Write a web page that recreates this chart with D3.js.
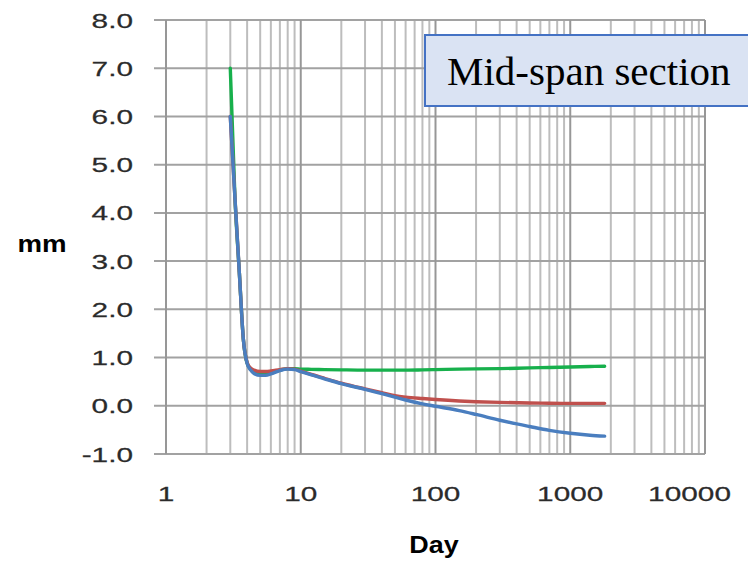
<!DOCTYPE html>
<html>
<head>
<meta charset="utf-8">
<script src="https://cdn.jsdelivr.net/npm/d3@7"></script>
<style>
  html, body { margin: 0; padding: 0; background: #fff; }
  svg { display: block; }
</style>
</head>
<body>
<svg id="chart" width="748" height="562"></svg>
<script>
// Deflection at mid-span (mm) against time since casting (days), log time axis
const days = [3, 3.25, 3.5, 3.75, 4, 4.25, 4.5, 5, 5.5, 6, 7, 8, 9, 10, 12, 15, 20, 30, 40, 50, 60, 80, 100, 150, 200, 300, 500, 700, 1000, 1400, 1800];

const seriesGreen = [7.0, 4.3, 2.77, 1.38, 0.88, 0.76, 0.70, 0.67, 0.67, 0.69, 0.74, 0.77, 0.77, 0.76, 0.755, 0.75, 0.745, 0.74, 0.74, 0.74, 0.74, 0.745, 0.75, 0.76, 0.765, 0.77, 0.785, 0.795, 0.805, 0.815, 0.82];
const seriesRed   = [6.0, 4.3, 2.77, 1.38, 0.90, 0.78, 0.74, 0.71, 0.71, 0.72, 0.75, 0.77, 0.76, 0.72, 0.65, 0.57, 0.47, 0.35, 0.27, 0.21, 0.18, 0.15, 0.13, 0.10, 0.085, 0.07, 0.058, 0.053, 0.05, 0.05, 0.05];
const seriesBlue  = [6.0, 4.3, 2.77, 1.38, 0.88, 0.74, 0.67, 0.63, 0.63, 0.66, 0.73, 0.76, 0.75, 0.71, 0.64, 0.56, 0.46, 0.34, 0.25, 0.18, 0.12, 0.04, -0.01, -0.10, -0.18, -0.30, -0.43, -0.51, -0.57, -0.61, -0.63];

const xTickLabels = [1, 10, 100, 1000, 10000];
const yTickValues = [-1, 0, 1, 2, 3, 4, 5, 6, 7, 8];

const svg = d3.select("#chart");
const W = 748;

const plotLeft = 166, plotRight = 705, plotTop = 20, plotBottom = 454;
const x = d3.scaleLog().domain([1, 10000]).range([plotLeft, plotRight]);
const y = d3.scaleLinear().domain([-1, 8]).range([plotBottom, plotTop]);

// grid: minor decade lines, then horizontal lines, then major decade lines
const grid = svg.append("g");
const allX = x.ticks();
const isMajor = v => Math.abs(Math.log10(v) - Math.round(Math.log10(v))) < 1e-9;

grid.append("g").selectAll("line")
  .data(allX.filter(v => !isMajor(v)))
  .join("line")
  .attr("x1", d => x(d)).attr("x2", d => x(d))
  .attr("y1", plotTop).attr("y2", plotBottom)
  .attr("stroke", "#bdbdbd").attr("stroke-width", 2);

grid.append("g").selectAll("line")
  .data(yTickValues)
  .join("line")
  .attr("x1", plotLeft - 12).attr("x2", plotRight)
  .attr("y1", d => y(d)).attr("y2", d => y(d))
  .attr("stroke", "#a2a2a2").attr("stroke-width", 2);

grid.append("g").selectAll("line")
  .data(allX.filter(isMajor))
  .join("line")
  .attr("x1", d => x(d)).attr("x2", d => x(d))
  .attr("y1", plotTop).attr("y2", plotBottom)
  .attr("stroke", "#979797").attr("stroke-width", 2);

// curves
const line = d3.line()
  .x(d => x(d[0]))
  .y(d => y(d[1]))
  .curve(d3.curveMonotoneX);

const series = [
  { values: seriesGreen, color: "#17b04c" },
  { values: seriesRed,   color: "#c0504d" },
  { values: seriesBlue,  color: "#4a7ebf" }
];

svg.append("g").selectAll("path")
  .data(series)
  .join("path")
  .attr("d", s => line(days.map((d, i) => [d, s.values[i]])))
  .attr("fill", "none")
  .attr("stroke", s => s.color)
  .attr("stroke-width", 3.4)
  .attr("stroke-linejoin", "round")
  .attr("stroke-linecap", "round");

// tick labels (glyphs widened horizontally)
const sx = 1.42;
const tickFont = "'Liberation Sans', Arial, sans-serif";
const labelColor = "#2b2b2b";

svg.append("g").selectAll("text")
  .data(yTickValues)
  .join("text")
  .attr("transform", d => `translate(133,${y(d) + 7.5}) scale(${sx},1)`)
  .attr("text-anchor", "end")
  .attr("font-family", tickFont)
  .attr("font-size", 21)
  .attr("fill", labelColor)
  .attr("stroke", labelColor)
  .attr("stroke-width", 0.25)
  .text(d => d.toFixed(1));

// x labels centred under their grid line, kept inside the figure's right margin
svg.append("g").selectAll("text")
  .data(xTickLabels)
  .join("text")
  .attr("text-anchor", "middle")
  .attr("font-family", tickFont)
  .attr("font-size", 21)
  .attr("fill", labelColor)
  .attr("stroke", labelColor)
  .attr("stroke-width", 0.25)
  .text(d => String(d))
  .attr("transform", function (d) {
    const half = this.getComputedTextLength() * sx / 2;
    const cx = Math.min(x(d), W - 17 - half);
    return `translate(${cx},501) scale(${sx},1)`;
  });

// axis titles
svg.append("text")
  .attr("transform", `translate(42,252) scale(1.2,1)`)
  .attr("text-anchor", "middle")
  .attr("font-family", tickFont)
  .attr("font-weight", "bold")
  .attr("font-size", 23)
  .attr("fill", "#000")
  .text("mm");

svg.append("text")
  .attr("transform", `translate(434,553) scale(1.17,1)`)
  .attr("text-anchor", "middle")
  .attr("font-family", tickFont)
  .attr("font-weight", "bold")
  .attr("font-size", 23)
  .attr("fill", "#000")
  .text("Day");

// section label box
svg.append("rect")
  .attr("x", 425).attr("y", 35)
  .attr("width", 340).attr("height", 71)
  .attr("fill", "#dae3f3")
  .attr("stroke", "#4472c4")
  .attr("stroke-width", 2);

svg.append("text")
  .attr("x", 447).attr("y", 85)
  .attr("font-family", "'Liberation Serif', 'Times New Roman', serif")
  .attr("font-size", 41)
  .attr("fill", "#000")
  .text("Mid-span section");
</script>
</body>
</html>
